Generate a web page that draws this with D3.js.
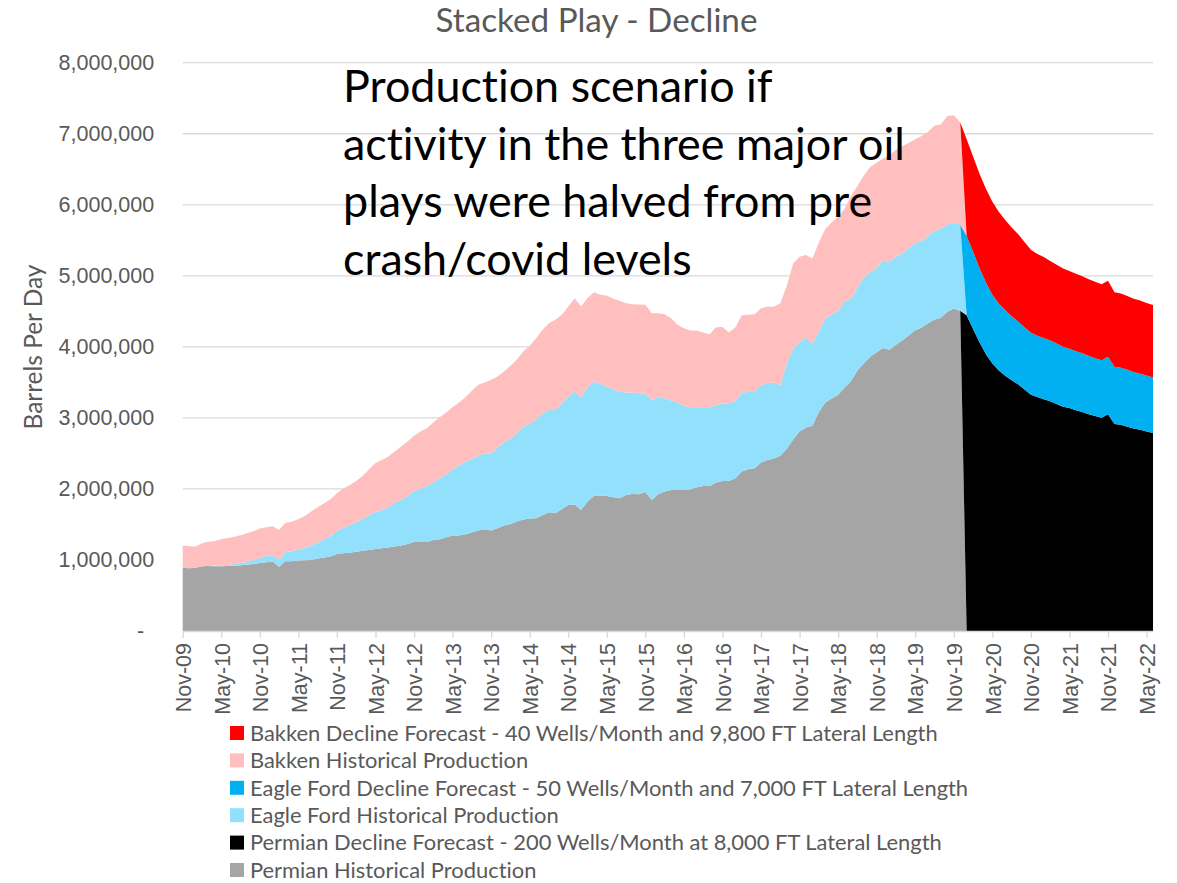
<!DOCTYPE html>
<html>
<head>
<meta charset="utf-8">
<script src="https://cdn.jsdelivr.net/npm/d3@7"></script>
<style>
  body { margin: 0; background: #fff; }
  .grid line { stroke: #d9d9d9; stroke-width: 1.3; }
  .axis path, .axis line { stroke: #d9d9d9; stroke-width: 1.3; }
  .axis text { font-family: "Liberation Sans", Arial, sans-serif; font-size: 21.5px; fill: #595959; }
  .label { font-family: Lato, sans-serif; fill: #595959; font-variant-ligatures: none; }
  .note { font-family: Lato, sans-serif; fill: #000; font-variant-ligatures: none; }
</style>
</head>
<body>
<script>
(function () {

  //monthly production, thousand barrels per day, Nov-09 onwards
  var permianHist = [892, 883, 892, 911, 915, 911, 911, 915, 920, 925,
    934, 944, 958, 967, 977, 906, 981, 981, 991, 995,
    1000, 1019, 1033, 1047, 1085, 1094, 1103, 1117, 1131, 1141,
    1155, 1164, 1174, 1188, 1202, 1225, 1254, 1254, 1254, 1282,
    1291, 1319, 1343, 1343, 1362, 1385, 1413, 1432, 1413, 1446,
    1484, 1507, 1540, 1568, 1582, 1587, 1629, 1671, 1657, 1714,
    1775, 1780, 1704, 1822, 1901, 1906, 1901, 1883, 1869, 1915,
    1930, 1925, 1958, 1845, 1925, 1962, 1986, 1986, 1986, 1995,
    2023, 2042, 2042, 2089, 2113, 2113, 2150, 2244, 2277, 2291,
    2371, 2408, 2429, 2468, 2565, 2696, 2808, 2866, 2890, 3084,
    3215, 3274, 3327, 3424, 3521, 3667, 3764, 3861, 3924, 3983,
    3958, 4031, 4094, 4162, 4235, 4274, 4332, 4386, 4410, 4493,
    4541, 4507];

  var eagleFordHist = [0, 0, 0, 0, 0, 10, 14, 14, 23, 33,
    38, 56, 66, 89, 94, 94, 131, 141, 155, 178,
    202, 225, 258, 291, 324, 357, 390, 413, 446, 493,
    521, 540, 563, 620, 643, 676, 718, 751, 784, 812,
    859, 883, 934, 986, 1019, 1038, 1052, 1070, 1085, 1136,
    1169, 1202, 1235, 1310, 1333, 1394, 1437, 1441, 1455, 1493,
    1526, 1595, 1587, 1610, 1610, 1573, 1540, 1512, 1502, 1441,
    1427, 1423, 1385, 1408, 1366, 1315, 1258, 1230, 1183, 1155,
    1127, 1108, 1108, 1094, 1085, 1094, 1080, 1113, 1089, 1075,
    1089, 1080, 1068, 990, 1199, 1277, 1262, 1262, 1151, 1132,
    1180, 1185, 1180, 1214, 1151, 1165, 1214, 1190, 1185, 1238,
    1229, 1238, 1224, 1229, 1229, 1214, 1229, 1248, 1248, 1228,
    1214, 1214];

  var bakkenHist = [310, 310, 296, 324, 343, 347, 366, 380, 385, 390,
    404, 404, 418, 404, 404, 423, 413, 418, 427, 446,
    479, 498, 507, 516, 530, 554, 563, 582, 606, 643,
    690, 704, 718, 718, 751, 765, 775, 803, 817, 840,
    859, 873, 873, 887, 911, 958, 1000, 995, 1038, 1000,
    1000, 1023, 1042, 1056, 1099, 1141, 1174, 1221, 1268, 1244,
    1268, 1310, 1277, 1254, 1258, 1254, 1282, 1282, 1277, 1258,
    1244, 1249, 1249, 1221, 1183, 1183, 1160, 1094, 1094, 1080,
    1080, 1052, 1028, 1094, 1080, 995, 1042, 1089, 1085, 1094,
    1085, 1080, 1068, 1156, 1093, 1199, 1199, 1166, 1204, 1248,
    1263, 1296, 1321, 1311, 1447, 1433, 1433, 1481, 1481, 1432,
    1515, 1506, 1505, 1481, 1457, 1481, 1466, 1481, 1471, 1530,
    1505, 1442];

  //decline forecasts, Jan-20 to Jun-22
  var permianDecline = [4444, 4250, 4065, 3895, 3764, 3667, 3594, 3531, 3473, 3400,
    3327, 3293, 3264, 3235, 3196, 3157, 3138, 3109, 3084, 3050,
    3026, 3002, 3050, 2914, 2905, 2876, 2851, 2832, 2808, 2788];

  var eagleFordDecline = [1117, 1090, 1040, 1010, 970, 945, 920, 900, 885, 875,
    870, 865, 860, 855, 850, 845, 835, 830, 825, 820,
    815, 810, 810, 805, 800, 800, 795, 790, 790, 782];

  var bakkenDecline = [1360, 1340, 1330, 1320, 1310, 1290, 1270, 1250, 1230, 1200,
    1170, 1150, 1140, 1120, 1110, 1100, 1095, 1090, 1085, 1080,
    1075, 1070, 1070, 1050, 1045, 1040, 1030, 1030, 1020, 1020];

  var tickLabels = ["Nov-09", "May-10", "Nov-10", "May-11", "Nov-11", "May-12", "Nov-12",
    "May-13", "Nov-13", "May-14", "Nov-14", "May-15", "Nov-15", "May-16", "Nov-16",
    "May-17", "Nov-17", "May-18", "Nov-18", "May-19", "Nov-19", "May-20", "Nov-20",
    "May-21", "Nov-21", "May-22"];

  var yTicks = [0, 1000000, 2000000, 3000000, 4000000, 5000000, 6000000, 7000000, 8000000];

  var keys = ["permHist", "permDecl", "efHist", "efDecl", "bakHist", "bakDecl"];
  var colors = {
    permHist: "#a5a5a5",
    permDecl: "#000000",
    efHist: "#93e0fd",
    efDecl: "#00b0f0",
    bakHist: "#ffbfbf",
    bakDecl: "#ff0000"
  };
  var legendItems = [
    ["bakDecl", "Bakken Decline Forecast - 40 Wells/Month and 9,800 FT Lateral Length"],
    ["bakHist", "Bakken Historical Production"],
    ["efDecl", "Eagle Ford Decline Forecast - 50 Wells/Month and 7,000 FT Lateral Length"],
    ["efHist", "Eagle Ford Historical Production"],
    ["permDecl", "Permian Decline Forecast - 200 Wells/Month at 8,000 FT Lateral Length"],
    ["permHist", "Permian Historical Production"]
  ];
  var noteLines = ["Production scenario if", "activity in the three major oil",
    "plays were halved from pre", "crash/covid levels"];

  //build one row per month, history and forecast never overlap
  var nHist = permianHist.length,
      nMonths = nHist + permianDecline.length;
  var rows = d3.range(nMonths).map(function (i) {
    var h = i < nHist, f = i - nHist;
    return {
      i: i,
      permHist: h ? permianHist[i] * 1000 : 0,
      permDecl: h ? 0 : permianDecline[f] * 1000,
      efHist: h ? eagleFordHist[i] * 1000 : 0,
      efDecl: h ? 0 : eagleFordDecline[f] * 1000,
      bakHist: h ? bakkenHist[i] * 1000 : 0,
      bakDecl: h ? 0 : bakkenDecline[f] * 1000
    };
  });

  var width = 1177, height = 883;
  var left = 182.7, right = 1153, top = 62.7, bottom = 631;

  var svg = d3.select("body").append("svg")
      .attr("width", width)
      .attr("height", height);

  var x = d3.scaleLinear().domain([0, nMonths - 1]).range([left, right]);
  var y = d3.scaleLinear().domain([0, 8000000]).range([bottom, top]);

  //gridlines
  svg.append("g").attr("class", "grid")
    .selectAll("line")
    .data(yTicks.slice(1))
    .enter().append("line")
    .attr("x1", left).attr("x2", right)
    .attr("y1", function (d) { return y(d); })
    .attr("y2", function (d) { return y(d); });

  //stacked areas
  var series = d3.stack().keys(keys)(rows);
  var area = d3.area()
      .x(function (d) { return x(d.data.i); })
      .y0(function (d) { return y(d[0]); })
      .y1(function (d) { return y(d[1]); });

  svg.append("g").selectAll("path")
    .data(series)
    .enter().append("path")
    .attr("d", area)
    .style("fill", function (d) { return colors[d.key]; });

  //x axis
  var xAxis = d3.axisBottom(x)
      .tickValues(d3.range(0, nMonths, 6))
      .tickFormat(function (d, i) { return tickLabels[i]; })
      .tickSize(7)
      .tickSizeOuter(0);

  var gx = svg.append("g").attr("class", "axis")
      .attr("transform", "translate(0," + bottom + ")")
      .call(xAxis);
  gx.selectAll("text")
      .attr("transform", "rotate(-90)")
      .attr("text-anchor", "end")
      .attr("x", -12)
      .attr("y", 0)
      .attr("dy", "0.36em");

  //y axis
  var fmt = d3.format(",");
  var yAxis = d3.axisLeft(y)
      .tickValues(yTicks)
      .tickFormat(function (d) { return d === 0 ? "-" : fmt(d); })
      .tickSize(0)
      .tickPadding(28.5);

  var gy = svg.append("g").attr("class", "axis")
      .attr("transform", "translate(" + left + ",0)")
      .call(yAxis);
  gy.select(".domain").remove();
  gy.selectAll(".tick text").filter(function (d) { return d === 0; }).attr("dx", -10);

  function fit(sel, target) {
    sel.style("font-size", "100px");
    var w = sel.node().getComputedTextLength();
    var size = 100 * target / w;
    sel.style("font-size", size + "px");
    return size;
  }

  //title
  var title = svg.append("text")
      .attr("class", "label")
      .attr("x", 596.5)
      .attr("y", 32)
      .attr("text-anchor", "middle")
      .text("Stacked Play - Decline");
  fit(title, 322);

  //y axis title
  var yTitle = svg.append("text")
      .attr("class", "label")
      .attr("transform", "translate(33,347) rotate(-90)")
      .attr("text-anchor", "middle")
      .attr("dy", "0.36em")
      .text("Barrels Per Day");
  fit(yTitle, 165);

  //annotation
  var note = svg.append("g");
  var noteText = note.selectAll("text")
      .data(noteLines)
      .enter().append("text")
      .attr("class", "note")
      .attr("x", 343)
      .attr("y", function (d, i) { return 102 + i * 57.5; })
      .text(function (d) { return d; });
  var noteSize = fit(noteText.filter(function (d, i) { return i === 1; }), 562);
  noteText.style("font-size", noteSize + "px");

  //legend
  var legend = svg.append("g").attr("transform", "translate(230,733)");
  var item = legend.selectAll("g")
      .data(legendItems)
      .enter().append("g")
      .attr("transform", function (d, i) { return "translate(0," + (i * 27.4) + ")"; });
  item.append("rect")
      .attr("x", 0).attr("y", -7)
      .attr("width", 14).attr("height", 14)
      .style("fill", function (d) { return colors[d[0]]; });
  var legendText = item.append("text")
      .attr("class", "label")
      .attr("x", 20)
      .attr("dy", "0.36em")
      .text(function (d) { return d[1]; });
  var legendSize = fit(legendText.filter(function (d, i) { return i === 0; }), 688);
  legendText.style("font-size", legendSize + "px");

})();
</script>
</body>
</html>
